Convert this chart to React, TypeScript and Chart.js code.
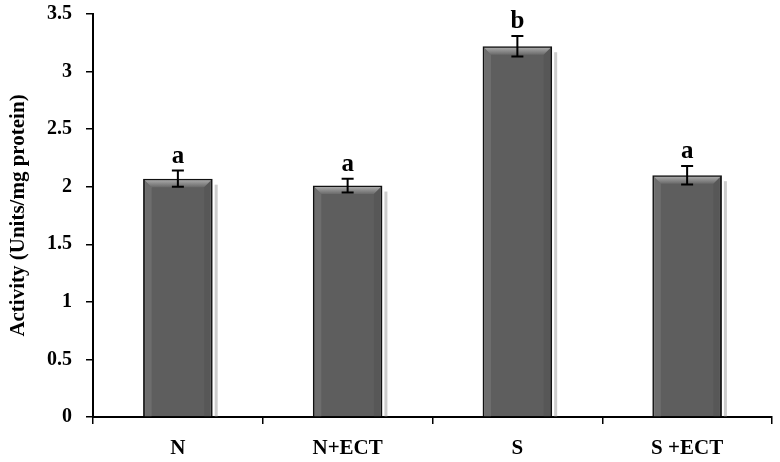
import React, { useEffect, useRef } from 'react';
import { Chart, registerables } from 'chart.js';

Chart.register(...registerables);

const categories = ['N', 'N+ECT', 'S', 'S +ECT'];
const activity = [2.07, 2.01, 3.22, 2.1];
const errors = [0.07, 0.06, 0.09, 0.08];
const letters = ['a', 'a', 'b', 'a'];
const yMin = 0;
const yMax = 3.5;
const yStep = 0.5;
const yTitle = 'Activity (Units/mg protein)';

const SERIF = '"Liberation Serif", "Times New Roman", serif';

const decorPlugin = {
  id: 'decor',
  beforeDatasetsDraw(chart: any) {
    const ctx = chart.ctx;
    const meta = chart.getDatasetMeta(0);
    ctx.save();
    meta.data.forEach((bar: any) => {
      const p = bar.getProps(['x', 'y', 'base', 'width'], true);
      const right = p.x + p.width / 2;
      ctx.fillStyle = 'rgba(200,200,200,0.9)';
      ctx.fillRect(right + 2, p.y + 6, 3, p.base - p.y - 6);
    });
    ctx.restore();
  },
  afterDatasetsDraw(chart: any) {
    const ctx = chart.ctx;
    const meta = chart.getDatasetMeta(0);
    const yScale = chart.scales.y;
    ctx.save();
    meta.data.forEach((bar: any, i: number) => {
      const p = bar.getProps(['x', 'y', 'base', 'width'], true);
      const left = p.x - p.width / 2 + 1.5;
      const right = p.x + p.width / 2 - 1.5;
      const top = p.y + 1.5;
      const d = 7;
      const g = ctx.createLinearGradient(0, top, 0, top + d);
      g.addColorStop(0, '#a8a8a8');
      g.addColorStop(1, '#6a6a6a');
      ctx.fillStyle = g;
      ctx.beginPath();
      ctx.moveTo(left, top);
      ctx.lineTo(right, top);
      ctx.lineTo(right - d, top + d);
      ctx.lineTo(left + d, top + d);
      ctx.closePath();
      ctx.fill();
      ctx.fillStyle = 'rgba(120,120,120,0.6)';
      ctx.beginPath();
      ctx.moveTo(left, top);
      ctx.lineTo(left + d, top + d);
      ctx.lineTo(left + d, p.base);
      ctx.lineTo(left, p.base);
      ctx.closePath();
      ctx.fill();
      ctx.fillStyle = 'rgba(80,80,80,0.5)';
      ctx.beginPath();
      ctx.moveTo(right, top);
      ctx.lineTo(right - d, top + d);
      ctx.lineTo(right - d, p.base);
      ctx.lineTo(right, p.base);
      ctx.closePath();
      ctx.fill();

      const hi = yScale.getPixelForValue(activity[i] + errors[i]);
      const lo = yScale.getPixelForValue(activity[i] - errors[i]);
      ctx.strokeStyle = '#000';
      ctx.lineWidth = 2;
      ctx.beginPath();
      ctx.moveTo(p.x, hi);
      ctx.lineTo(p.x, lo);
      ctx.moveTo(p.x - 6, hi);
      ctx.lineTo(p.x + 6, hi);
      ctx.moveTo(p.x - 6, lo);
      ctx.lineTo(p.x + 6, lo);
      ctx.stroke();

      ctx.fillStyle = '#000';
      ctx.font = `bold 25px ${SERIF}`;
      ctx.textAlign = 'center';
      ctx.textBaseline = 'alphabetic';
      ctx.fillText(letters[i], p.x, hi - 8);
    });
    ctx.restore();
  },
};

export default function App() {
  const ref = useRef<HTMLCanvasElement | null>(null);

  useEffect(() => {
    document.body.style.margin = '0';
    const canvas = ref.current;
    if (!canvas) return;
    const chart = new Chart(canvas, {
      type: 'bar',
      data: {
        labels: categories,
        datasets: [
          {
            data: activity,
            backgroundColor: '#5e5e5e',
            borderColor: '#111111',
            borderWidth: 2,
            barPercentage: 0.82,
            categoryPercentage: 0.5,
          },
        ],
      },
      options: {
        animation: false,
        responsive: false,
        maintainAspectRatio: false,
        layout: { padding: { top: 14, right: 8, left: 0, bottom: 0 } },
        plugins: {
          legend: { display: false },
          tooltip: { enabled: false },
        },
        scales: {
          x: {
            grid: {
              display: true,
              drawOnChartArea: false,
              drawTicks: true,
              tickLength: 7,
              color: '#000',
              lineWidth: 1.5,
              offset: true,
            },
            border: { display: true, color: '#000', width: 2 },
            ticks: {
              color: '#000',
              font: { family: SERIF, size: 21, weight: 'bold' },
              padding: 12,
            },
            afterFit(scale: any) {
              scale.height = 45;
              scale.paddingLeft = 0;
              scale.paddingRight = 0;
            },
          },
          y: {
            min: yMin,
            max: yMax,
            ticks: {
              stepSize: yStep,
              color: '#000',
              font: { family: SERIF, size: 20, weight: 'bold' },
              padding: 14,
              callback: (v: any) => String(Number(v)),
            },
            grid: {
              display: true,
              drawOnChartArea: false,
              drawTicks: true,
              tickLength: 7,
              color: '#000',
              lineWidth: 1.5,
            },
            border: { display: true, color: '#000', width: 2 },
            title: {
              display: true,
              text: yTitle,
              color: '#000',
              font: { family: SERIF, size: 21, weight: 'bold' },
              padding: { top: 6, bottom: 0 },
            },
            afterFit(scale: any) {
              scale.width = 93;
              scale.paddingTop = 0;
              scale.paddingBottom = 0;
            },
          },
        },
      },
      plugins: [decorPlugin],
    });
    return () => chart.destroy();
  }, []);

  return (
    <div style={{ width: 780, height: 462 }}>
      <canvas ref={ref} width={780} height={462} style={{ display: 'block' }} />
    </div>
  );
}
